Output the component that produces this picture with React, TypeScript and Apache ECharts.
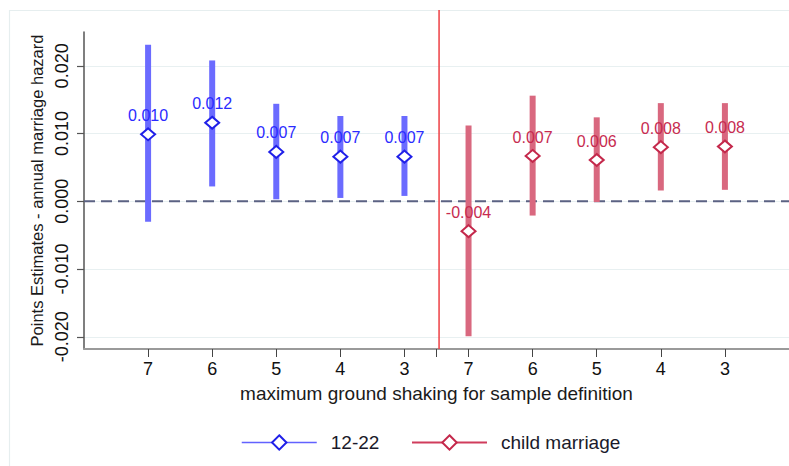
import React, { useEffect, useRef } from "react";
import * as echarts from "echarts";

// ---- data ----
const tickPositions = [1, 2, 3, 4, 5, 6, 7, 8, 9, 10];
const tickLabels = ["7", "6", "5", "4", "3", "7", "6", "5", "4", "3"];
const separatorTick = 5.5;
const separatorLine = 5.54;
const zeroLine = 0;

const blueX = [1, 2, 3, 4, 5];
const blueEst = [0.0099, 0.0116, 0.0073, 0.0066, 0.0066];
const blueLo = [-0.003, 0.0022, 0.0003, 0.0005, 0.0008];
const blueHi = [0.0231, 0.0208, 0.0144, 0.0126, 0.0126];

const redX = [6, 7, 8, 9, 10];
const redEst = [-0.0044, 0.0067, 0.0061, 0.008, 0.0081];
const redLo = [-0.0199, -0.0021, -0.0001, 0.0016, 0.0017];
const redHi = [0.0112, 0.0156, 0.0124, 0.0145, 0.0145];

const yTicks = [-0.02, -0.01, 0, 0.01, 0.02];

const FONT = "'Liberation Sans', Arial, Helvetica, sans-serif";

const BLUE_BAR = "#6b6bff";
const BLUE_MARK = "#2020e8";
const BLUE_TEXT = "#2b2bff";
const RED_BAR = "#d9687f";
const RED_MARK = "#c4284b";
const RED_TEXT = "#c72b50";

function errorSeries(name: string, xs: number[], lo: number[], hi: number[], color: string) {
  return {
    type: "custom",
    name,
    z: 2,
    silent: true,
    data: xs.map((x, i) => [x, lo[i], hi[i]]),
    renderItem: (_params: any, api: any) => {
      const x = api.value(0);
      const top = api.coord([x, api.value(2)]);
      const bot = api.coord([x, api.value(1)]);
      return {
        type: "rect",
        shape: { x: top[0] - 3, y: top[1], width: 6, height: bot[1] - top[1] },
        style: { fill: color },
      };
    },
  };
}

function pointSeries(name: string, xs: number[], est: number[], border: string, text: string, lineColor: string) {
  return {
    type: "line",
    name,
    z: 4,
    data: xs.map((x, i) => [x, est[i]]),
    symbol: "diamond",
    symbolSize: [14, 12],
    showSymbol: true,
    itemStyle: { color: "#ffffff", borderColor: border, borderWidth: 2 },
    lineStyle: { color: lineColor, width: 1.5, opacity: 0 },
    label: {
      show: true,
      position: "top",
      distance: 4,
      color: text,
      fontSize: 16,
      fontFamily: FONT,
      formatter: (p: any) => p.value[1].toFixed(3),
    },
  };
}

export default function App() {
  const ref = useRef<HTMLDivElement>(null);
  useEffect(() => {
    const chart = echarts.init(ref.current!, undefined, { renderer: "svg" });
    chart.setOption({
      animation: false,
      backgroundColor: "#ffffff",
      textStyle: { fontFamily: FONT },
      grid: { left: 84, right: 0, top: 32, bottom: 117 },
      xAxis: {
        type: "value",
        min: 0,
        max: 11,
        name: "maximum ground shaking for sample definition",
        nameLocation: "middle",
        nameGap: 35,
        nameTextStyle: { fontSize: 19, color: "#1a1a1a", fontFamily: FONT },
        axisLine: { show: true, onZero: false, lineStyle: { color: "#9a9a9a", width: 2 } },
        axisTick: {
          show: true,
          length: 8,
          lineStyle: { color: "#444", width: 1 },
          customValues: [...tickPositions, separatorTick],
        },
        axisLabel: {
          show: true,
          customValues: tickPositions,
          margin: 11,
          fontSize: 18,
          color: "#111",
          fontFamily: FONT,
          formatter: (v: number) => {
            const i = tickPositions.indexOf(v);
            return i >= 0 ? tickLabels[i] : "";
          },
        },
        splitLine: { show: false },
      },
      yAxis: {
        type: "value",
        min: -0.0218,
        max: 0.025,
        name: "Points Estimates - annual marriage hazard",
        nameLocation: "middle",
        nameGap: 24,
        nameTextStyle: { fontSize: 16.5, color: "#1a1a1a", fontFamily: FONT },
        axisLine: { show: true, onZero: false, lineStyle: { color: "#555", width: 1.5 } },
        axisTick: { show: true, length: 7, lineStyle: { color: "#555", width: 1.2 }, customValues: yTicks },
        axisLabel: {
          show: true,
          customValues: yTicks,
          rotate: 90,
          margin: 13,
          fontSize: 18,
          color: "#111",
          fontFamily: FONT,
          formatter: (v: number) => v.toFixed(3),
        },
        splitLine: { show: true, lineStyle: { color: "#e8f0f1", width: 1.2 } },
      },
      legend: [
        {
          left: 241,
          top: 433,
          padding: 0,
          itemWidth: 75,
          itemHeight: 18,
          textStyle: { fontSize: 19, color: "#1a1a2a", fontFamily: FONT, padding: [0, 0, 0, 9] },
          data: [{ name: "12-22", lineStyle: { opacity: 1, width: 1.5, color: "#6262ff" } }],
        },
        {
          left: 411,
          top: 433,
          padding: 0,
          itemWidth: 75,
          itemHeight: 18,
          textStyle: { fontSize: 19, color: "#1a1a2a", fontFamily: FONT, padding: [0, 0, 0, 9] },
          data: [{ name: "child marriage", lineStyle: { opacity: 1, width: 2, color: "#d03c5c" } }],
        },
      ],
      series: [
        errorSeries("blue-ci", blueX, blueLo, blueHi, BLUE_BAR),
        errorSeries("red-ci", redX, redLo, redHi, RED_BAR),
        pointSeries("12-22", blueX, blueEst, BLUE_MARK, BLUE_TEXT, "#6262ff"),
        pointSeries("child marriage", redX, redEst, RED_MARK, RED_TEXT, "#d03c5c"),
      ],
    });
    const sx = chart.convertToPixel({ xAxisIndex: 0 }, separatorLine) as number;
    const axisBottom = chart.convertToPixel({ yAxisIndex: 0 }, -0.0218) as number;
    const zy = chart.convertToPixel({ yAxisIndex: 0 }, zeroLine) as number;
    const xLeft = chart.convertToPixel({ xAxisIndex: 0 }, 0) as number;
    const xRight = chart.convertToPixel({ xAxisIndex: 0 }, 11) as number;
    chart.setOption({
      graphic: [
        { type: "line", silent: true, z: 0, shape: { x1: 9.5, y1: 10, x2: 9.5, y2: 466 }, style: { stroke: "#e6eeef", lineWidth: 1.2 } },
        { type: "line", silent: true, z: 0, shape: { x1: 9, y1: 10.5, x2: 789, y2: 10.5 }, style: { stroke: "#e6eeef", lineWidth: 1.2 } },
        { type: "line", silent: true, z: 1, shape: { x1: xLeft, y1: zy, x2: xRight, y2: zy }, style: { stroke: "#5b6283", lineWidth: 2, lineDash: [11, 6] } },
        { type: "line", silent: true, z: 3, shape: { x1: sx, y1: 10, x2: sx, y2: axisBottom }, style: { stroke: "#ee3f44", lineWidth: 1.5 } },
      ],
    });
    return () => chart.dispose();
  }, []);
  return <div ref={ref} style={{ position: "absolute", left: 0, top: 0, width: 789, height: 466 }} />;
}
